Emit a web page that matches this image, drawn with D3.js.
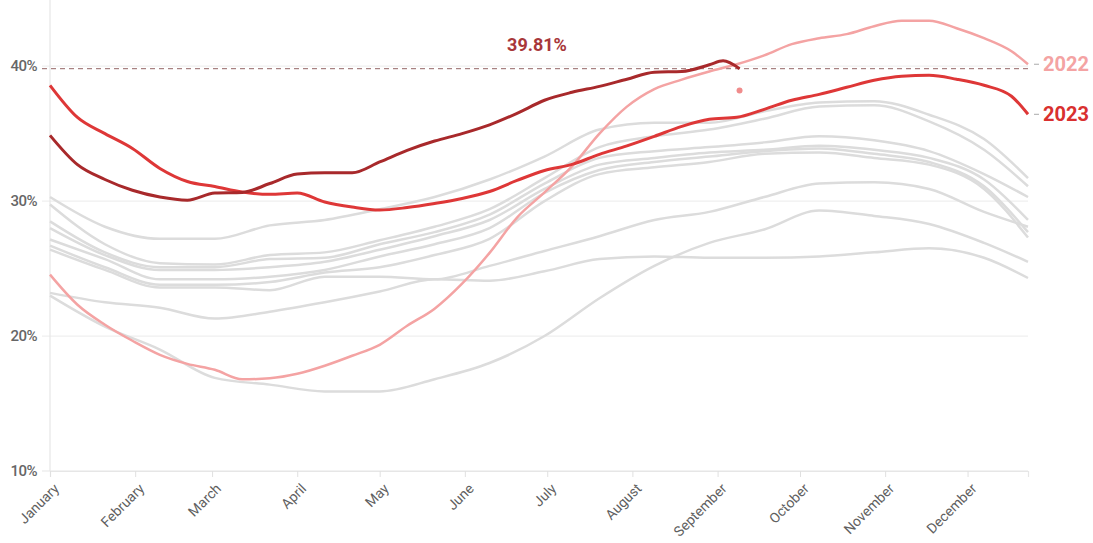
<!DOCTYPE html>
<html>
<head>
<meta charset="utf-8">
<script src="https://cdn.jsdelivr.net/npm/d3@7"></script>
<style>
  body { margin: 0; background: #fff; }
  svg { display: block; font-family: Roboto, "Noto Sans", sans-serif; }
</style>
</head>
<body>
<svg width="1093" height="543"></svg>
<script>
// day offsets from Jan 1 for each sampled point
const sampleDays = [0, 10, 20, 30, 40, 50, 60, 70, 80, 90, 100, 110, 120, 130, 140, 150, 160, 170, 180,
  190, 200, 210, 220, 230, 240, 250, 260, 270, 280, 290, 300, 310, 320, 330, 340, 350, 356];
const days2024 = [0, 10, 20, 30, 40, 50, 60, 70, 80, 90, 100, 110, 120, 130, 140, 150, 160, 170, 180,
  190, 200, 210, 220, 230, 240, 245, 251];
const grayDays = [0, 20, 40, 60, 80, 100, 120, 140, 160, 180, 200, 220, 240, 260, 280, 300, 320, 340, 356];

// highlighted years (%)
const values2024 = [34.87, 32.7, 31.6, 30.8, 30.3, 30.07, 30.6, 30.64, 31.3, 32.0, 32.1, 32.1, 32.9, 33.76,
  34.45, 35.0, 35.65, 36.5, 37.47, 38.06, 38.5, 39.03, 39.55, 39.6, 40.1, 40.4, 39.81];
const values2023 = [38.58, 36.2, 35.0, 33.9, 32.42, 31.45, 31.08, 30.67, 30.5, 30.6, 29.93, 29.56, 29.34,
  29.52, 29.82, 30.19, 30.71, 31.53, 32.27, 32.72, 33.46, 34.09, 34.8, 35.54, 36.06, 36.21, 36.8, 37.47,
  37.91, 38.43, 38.95, 39.25, 39.32, 39.03, 38.58, 37.77, 36.43];
const values2022 = [24.55, 22.32, 20.84, 19.65, 18.61, 17.94, 17.5, 16.79, 16.87, 17.2, 17.8, 18.54, 19.35,
  20.76, 22.03, 23.88, 26.16, 28.78, 30.64, 32.57, 35.0, 37.0, 38.3, 39.0, 39.6, 40.14, 40.8, 41.63, 42.07,
  42.37, 42.96, 43.36, 43.36, 42.81, 42.07, 41.1, 40.14];

// earlier years, all drawn in grey
const grayYears = [
  [30.3, 28.1, 27.2, 27.2, 28.2, 28.6, 29.4, 30.3, 31.6, 33.3, 35.3, 35.8, 35.8, 36.65, 37.3, 37.4, 36.4, 34.6, 31.7],
  [29.75, 26.8, 25.4, 25.3, 26.0, 26.2, 27.1, 28.1, 29.4, 31.7, 34.0, 34.8, 35.3, 36.1, 37.0, 37.1, 35.9, 33.8, 31.1],
  [28.5, 26.2, 25.1, 25.1, 25.7, 25.8, 26.8, 27.7, 29.0, 31.3, 33.2, 33.7, 34.0, 34.35, 34.8, 34.5, 33.7, 32.0, 30.3],
  [28.0, 26.0, 24.9, 24.9, 25.1, 25.5, 26.4, 27.4, 28.6, 30.9, 32.7, 33.2, 33.6, 33.8, 34.1, 33.8, 33.2, 31.6, 28.6],
  [27.15, 25.7, 24.2, 24.2, 24.4, 24.9, 25.9, 26.8, 28.0, 30.6, 32.3, 32.9, 33.3, 33.7, 33.9, 33.5, 32.9, 31.1, 27.7],
  [26.7, 25.1, 23.8, 23.8, 24.0, 24.7, 25.1, 26.0, 27.2, 30.0, 32.0, 32.5, 32.9, 33.5, 33.6, 33.2, 32.7, 30.9, 27.3],
  [26.4, 24.9, 23.6, 23.6, 23.4, 24.4, 24.4, 24.2, 25.2, 26.3, 27.4, 28.6, 29.2, 30.3, 31.3, 31.4, 30.9, 29.2, 28.1],
  [23.0, 20.7, 19.0, 16.9, 16.4, 15.9, 15.9, 16.8, 18.0, 20.0, 22.8, 25.2, 26.9, 27.9, 29.3, 28.9, 28.3, 26.9, 25.5],
  [23.2, 22.5, 22.1, 21.3, 21.8, 22.5, 23.3, 24.2, 24.1, 24.8, 25.7, 25.9, 25.8, 25.8, 25.9, 26.2, 26.5, 25.8, 24.3]
];

const latestValue = 39.81;
const extraDot = { day: 251, value: 38.2 };
const yTicks = [10, 20, 30, 40];

const svg = d3.select("svg");
const start = new Date(2023, 0, 1);
const toDate = d => d3.timeDay.offset(start, d);

const x = d3.scaleTime().domain([start, toDate(356)]).range([50, 1028]);
const y = d3.scaleLinear().domain([10, 44.9]).range([471, 0]);

// grid + axes
const grid = svg.append("g");
yTicks.forEach(t => {
  grid.append("line")
    .attr("x1", 42).attr("x2", 1028)
    .attr("y1", y(t)).attr("y2", y(t))
    .attr("stroke", t === 10 ? "#e6e6e6" : "#efefef").attr("stroke-width", 1.2);
  grid.append("text")
    .attr("x", 37).attr("y", y(t)).attr("dy", "0.35em")
    .attr("text-anchor", "end")
    .attr("font-size", 15).attr("font-weight", 500).attr("fill", "#666")
    .attr("letter-spacing", -0.5)
    .text(t + "%");
});
grid.append("line")
  .attr("x1", 50).attr("x2", 50).attr("y1", 0).attr("y2", 471)
  .attr("stroke", "#e6e6e6").attr("stroke-width", 1.2);

const xAxis = svg.append("g")
  .attr("transform", "translate(0,471)")
  .call(d3.axisBottom(x)
    .tickValues(d3.timeMonth.range(start, toDate(357)))
    .tickFormat(d3.timeFormat("%B"))
    .tickSize(6));
xAxis.select(".domain").attr("stroke", "#e6e6e6").attr("stroke-width", 1.2);
xAxis.selectAll(".tick line").attr("stroke", "#e0e0e0");
xAxis.selectAll(".tick text")
  .attr("font-family", "Roboto, sans-serif")
  .attr("font-size", 14).attr("fill", "#5f5f5f")
  .attr("y", 0).attr("dy", "0.35em")
  .attr("text-anchor", "end")
  .attr("transform", "translate(6,15) rotate(-45)");

// dashed reference line
svg.append("line")
  .attr("x1", 42).attr("x2", 1030)
  .attr("y1", y(latestValue)).attr("y2", y(latestValue))
  .attr("stroke", "#946565").attr("stroke-width", 1)
  .attr("stroke-dasharray", "5,4");

const line = d3.line()
  .curve(d3.curveMonotoneX)
  .x(d => x(toDate(d[0])))
  .y(d => y(d[1]));

svg.append("g").selectAll("path")
  .data(grayYears).enter().append("path")
  .attr("fill", "none")
  .attr("stroke", "#dcdcdc")
  .attr("stroke-width", 2.5)
  .attr("d", vals => line(grayDays.map((d, i) => [d, vals[i]])));

const highlight = [
  { days: sampleDays, vals: values2022, color: "#f4a3a3", w: 2.5 },
  { days: sampleDays, vals: values2023, color: "#de3737", w: 3 },
  { days: days2024, vals: values2024, color: "#a8292b", w: 3 }
];
svg.append("g").selectAll("path")
  .data(highlight).enter().append("path")
  .attr("fill", "none")
  .attr("stroke", d => d.color)
  .attr("stroke-width", d => d.w)
  .attr("stroke-linejoin", "round")
  .attr("d", d => line(d.days.map((day, i) => [day, d.vals[i]])));

svg.append("circle")
  .attr("cx", x(toDate(extraDot.day))).attr("cy", y(extraDot.value))
  .attr("r", 3).attr("fill", "#f08c8c");

// annotations
svg.append("text")
  .attr("x", 537).attr("y", y(latestValue) - 18)
  .attr("text-anchor", "middle")
  .attr("font-size", 18).attr("font-weight", 700).attr("fill", "#a8373a")
  .text(latestValue.toFixed(2) + "%");

const endLabels = [
  { label: "2022", value: values2022[values2022.length - 1], color: "#f4a3a3" },
  { label: "2023", value: values2023[values2023.length - 1], color: "#d9302f" }
];
endLabels.forEach(l => {
  svg.append("line")
    .attr("x1", 1034).attr("x2", 1039)
    .attr("y1", y(l.value)).attr("y2", y(l.value))
    .attr("stroke", "#aaa").attr("stroke-width", 1);
  svg.append("text")
    .attr("x", 1043).attr("y", y(l.value)).attr("dy", "0.35em")
    .attr("font-size", 20).attr("font-weight", 700).attr("fill", l.color)
    .text(l.label);
});
</script>
</body>
</html>
